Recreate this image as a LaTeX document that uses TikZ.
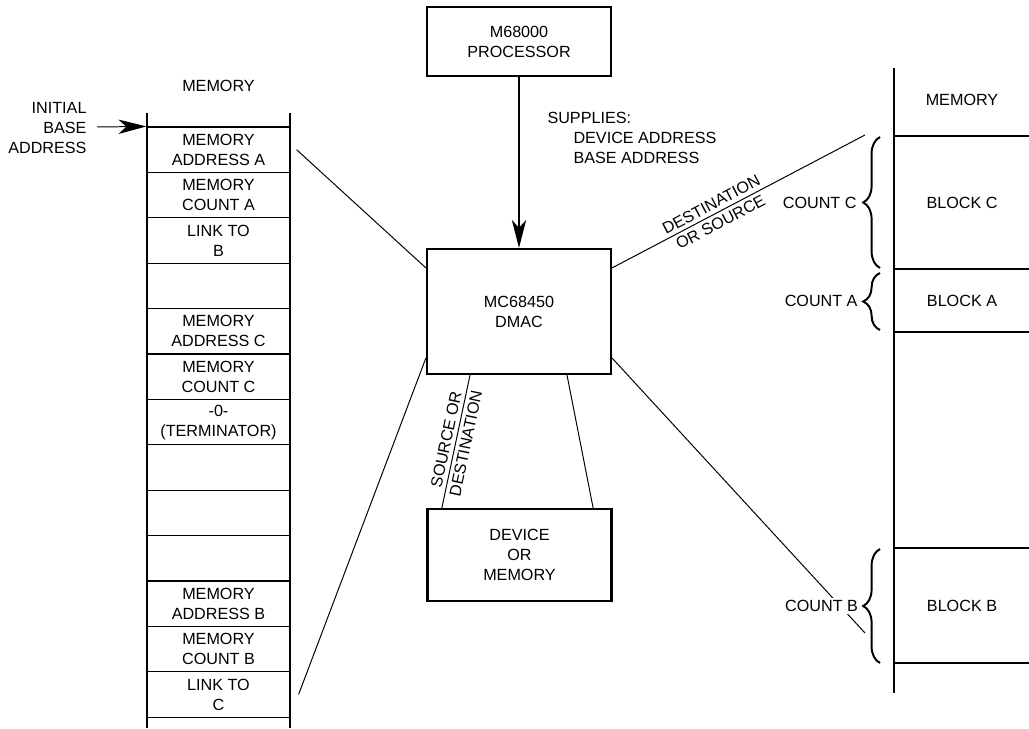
\documentclass[tikz,border=0pt]{standalone}
\usepackage{fontspec}
\setmainfont{Liberation Sans}
\usetikzlibrary{arrows.meta,decorations.pathreplacing}

\begin{document}
\begin{tikzpicture}[x=0.025cm, y=-0.025cm, line width=0.7pt,
  >={Stealth[length=0.7cm,width=0.36cm,inset=0.2cm]},
  font=\fontsize{11.5}{14.2}\selectfont,
  box/.style={draw, line width=1.6pt, minimum width=4.6cm, align=center},
  cell/.style={draw, line width=0.8pt, minimum width=3.575cm, minimum height=1.135cm, inner sep=0pt, align=center},
  lbl/.style={inner sep=0pt, align=center},
  brc/.style={decorate, decoration={brace, amplitude=0.42cm}, line width=1.4pt}]

\useasboundingbox (0,0) rectangle (1029,728);

% processor, dmac, device
\node[box, minimum height=1.725cm] (proc) at (519,41.5) {M68000\\PROCESSOR};
\node[box, minimum height=3.125cm] (dmac) at (519,311.5) {MC68450\\DMAC};
\node[box, minimum height=2.3cm] (dev) at (519.5,555) {DEVICE\\OR\\MEMORY};

\draw[->, line width=0.8pt] (proc.south) -- (dmac.north);
\node[lbl, align=left, anchor=west] (sup) at (547,138) {SUPPLIES:\\\hspace*{0.65cm}DEVICE ADDRESS\\\hspace*{0.65cm}BASE ADDRESS};

% left memory
\node[lbl] (memL) at (218.5,86) {MEMORY};
\draw[line width=0.8pt] (147,113) -- (147,728) (290,113) -- (290,728);
\foreach \t [count=\i] in {{MEMORY\\ADDRESS A}, {MEMORY\\COUNT A}, {LINK TO\\B}, {},
  {MEMORY\\ADDRESS C}, {MEMORY\\COUNT C}, {-0-\\(TERMINATOR)}, {}, {}, {},
  {MEMORY\\ADDRESS B}, {MEMORY\\COUNT B}, {LINK TO\\C}}
{
   \node[cell] (m\i) at (218.5, 104.3+45.4*\i) {\t};
}

\node[lbl, align=right, anchor=east] (ibase) at (87,128) {INITIAL\\BASE\\ADDRESS};
\coordinate (ib) at (97,127);
\draw[->] (ib) -- (m1.north west);

% right memory
\node[lbl] (memR) at (962,100) {MEMORY};
\draw[line width=0.8pt] (894,68) -- (894,693);
\foreach \y in {136,269,332,548,663}
{
   \draw[line width=0.8pt] (894,\y) -- (1029,\y);
}
\node[lbl] (blkC) at (962,203) {BLOCK C};
\node[lbl] (blkA) at (962,301) {BLOCK A};
\node[lbl] (blkB) at (962,606) {BLOCK B};

\draw[brc] (880,268) -- (880,137);
\draw[brc] (880,330) -- (880,273);
\draw[brc] (880,663) -- (880,549);
\node[lbl, anchor=east] (cntC) at (857,203) {COUNT C};
\node[lbl, anchor=east] (cntA) at (858,301) {COUNT A};

% connections
\coordinate (dst) at (865,135);
\coordinate (cb) at (865,633);
\draw ([xshift=0.15cm]m1.east) -- ([yshift=-0.5cm]dmac.north west);
\draw ([xshift=0.2cm]m13.east) -- ([yshift=0.425cm]dmac.south west);
\draw ([yshift=-0.5cm]dmac.north east) -- node[lbl, pos=0.41, sloped]{DESTINATION\\OR SOURCE} (dst);
\draw ([yshift=0.425cm]dmac.south east) -- (cb);
\draw ([xshift=-1.225cm]dmac.south) -- node[lbl, sloped]{SOURCE OR\\DESTINATION} ([xshift=-1.94cm]dev.north);
\draw ([xshift=1.2cm]dmac.south) -- ([xshift=1.84cm]dev.north);
\node[lbl, anchor=east, fill=white, inner sep=1.5pt] (cntB) at (860.5,606) {COUNT B};

\end{tikzpicture}
\end{document}
